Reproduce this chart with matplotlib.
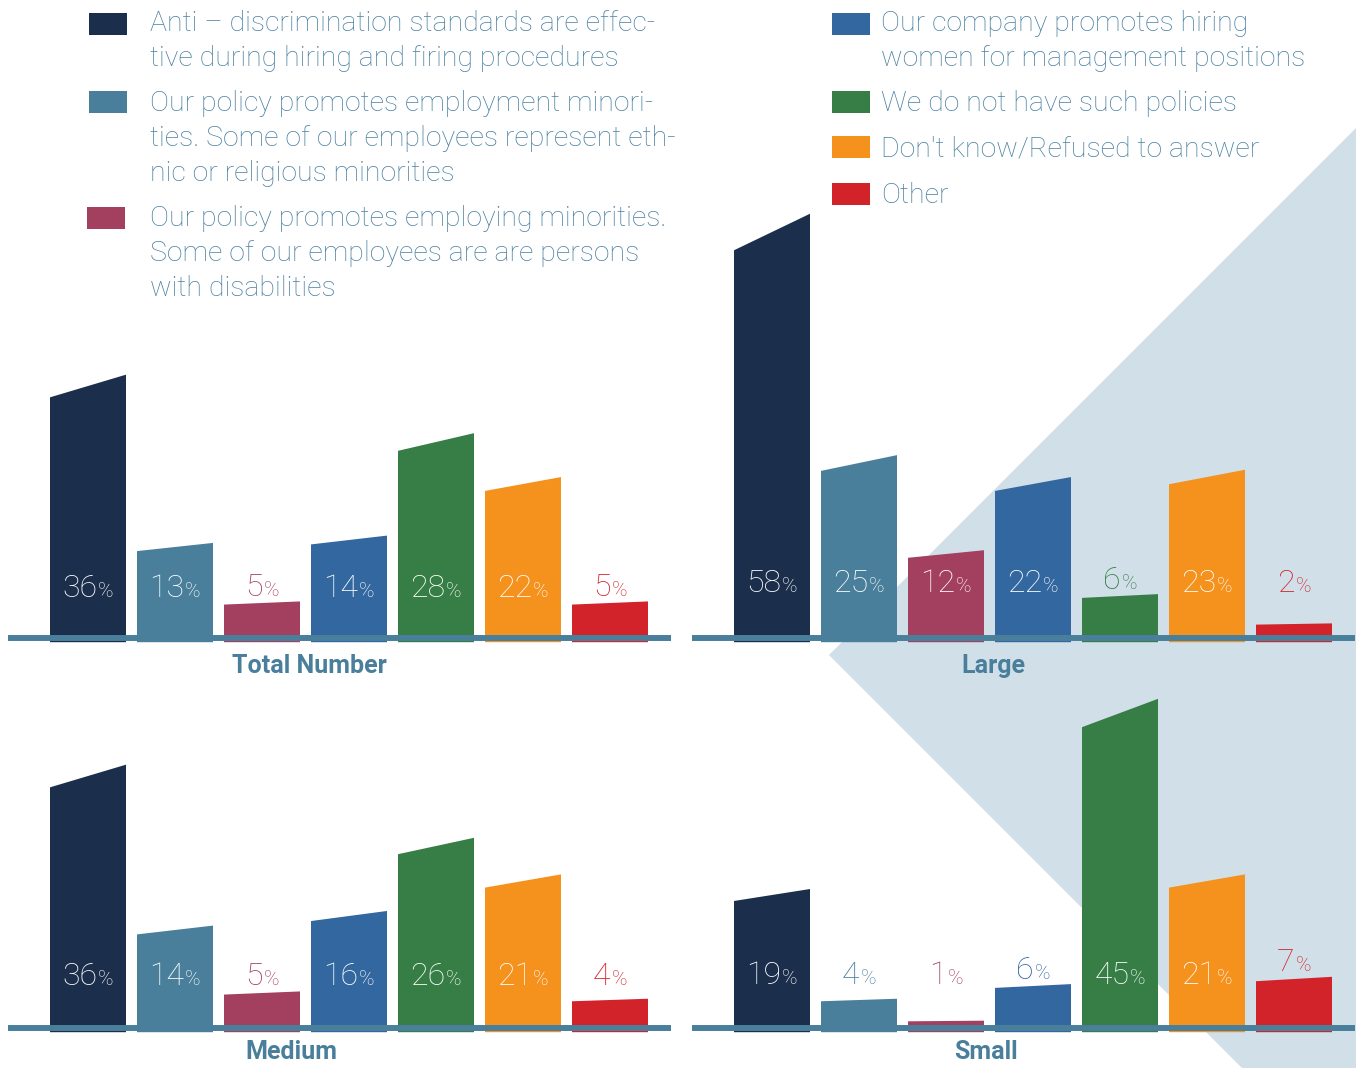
import matplotlib
matplotlib.use("Agg")
import matplotlib.pyplot as plt
from matplotlib.patches import Polygon

W, H = 1356, 1068

categories = [
    "Anti \u2013 discrimination standards are effec-\ntive during hiring and firing procedures",
    "Our policy promotes employment minori-\nties. Some of our employees represent eth-\nnic or religious minorities",
    "Our policy promotes employing minorities.\nSome of our employees are are persons\nwith disabilities",
    "Our company promotes hiring\nwomen for management positions",
    "We do not have such policies",
    "Don't know/Refused to answer",
    "Other",
]
colors = ["#1b2f4c", "#4a7f9c", "#a33f5f", "#33679f", "#367e45", "#f5921e", "#d2232a"]

groups = ["Total Number", "Large", "Medium", "Small"]
total_number = [36, 13, 5, 14, 28, 22, 5]
large = [58, 25, 12, 22, 6, 23, 2]
medium = [36, 14, 5, 16, 26, 21, 4]
small = [19, 4, 1, 6, 45, 21, 7]
values = [total_number, large, medium, small]

text_col = "#4b80a1"
line_col = "#4a7f9c"
bg_col = "#d1dfe8"

fig = plt.figure(figsize=(W / 100, H / 100), dpi=100)

# background layer in pixel coordinates
bg = fig.add_axes([0, 0, 1, 1], zorder=0)
bg.set_xlim(0, W)
bg.set_ylim(H, 0)
bg.axis("off")
bg.add_patch(Polygon([(1356, 128), (829, 655), (1242, 1068), (1356, 1068)],
                     closed=True, color=bg_col, lw=0))

# legend
leg_font = dict(family="Roboto", fontweight="light", fontsize=20.5, color=text_col)
left_items = [(89, 24, 150, 31), (89, 102, 150, 111), (87, 218, 150, 226)]
right_items = [(832, 24, 881, 31), (832, 102, 881, 111), (832, 147, 881, 157), (832, 194, 881, 203)]
for i, (sx, sy, tx, ty) in enumerate(left_items + right_items):
    bg.add_patch(plt.Rectangle((sx, sy - 11), 38, 22, color=colors[i], lw=0))
    for j, line in enumerate(categories[i].split("\n")):
        bg.text(tx, ty + j * 35, line, ha="left", va="baseline", **leg_font)

# panels: left px, right px, baseline px, title x px, title y, label baseline
panels = [(8, 671, 638, 309, -4.0, 5.9), (692, 1355, 638, 993, -4.0, 6.6),
          (8, 671, 1028, 291, -3.45, 6.1), (692, 1355, 1028, 986, -3.45, 6.3)]
pitch, bw, ppu = 87.0, 76.0, 7.0  # px per bar slot, bar width, px per percent
slant = 0.045
below, above = 40, 480

labels = []
for p, (x0, x1, base, tx, ty, lb) in enumerate(panels):
    ax = fig.add_axes([x0 / W, 1 - (base + below) / H, (x1 - x0) / W, (below + above) / H],
                      zorder=1)
    ax.patch.set_alpha(0)
    ax.axis("off")
    off = 80.0
    ax.set_xlim(-off / pitch, (x1 - x0 - off) / pitch)
    ax.set_ylim(-below / ppu, above / ppu)
    hw = bw / pitch / 2
    for i, v in enumerate(values[p]):
        ax.add_patch(Polygon([(i - hw, -0.6), (i - hw, v * (1 - slant)),
                              (i + hw, v * (1 + slant)), (i + hw, -0.6)],
                             closed=True, color=colors[i], lw=0, zorder=2))
        inside = v * (1 - slant) * ppu > lb * ppu + 30
        if inside:
            yb, c = lb, "white"
        else:
            yb, c = max(lb, v * (1 + slant) + 0.8), colors[i]
        tn = ax.text(i, yb, str(v), ha="left", va="baseline", fontsize=23,
                     family="Roboto", fontweight="light", color=c, zorder=4)
        tp = ax.text(i, yb, "%", ha="left", va="baseline", fontsize=15,
                     family="Roboto", fontweight="light", color=c, zorder=4)
        labels.append((i, tn, tp))
    ax.axhline(0, color=line_col, lw=4.3, zorder=3)
    ax.text((tx - x0 - off) / pitch, ty, groups[p], ha="center", va="center",
            fontsize=18, family="Roboto", fontweight="bold", color=line_col)

fig.canvas.draw()
r = fig.canvas.get_renderer()
for i, tn, tp in labels:
    wn = tn.get_window_extent(r).width
    wp = tp.get_window_extent(r).width
    tot = wn + 1 + wp
    tn.set_x(i - tot / 2 / pitch)
    tp.set_x(i - tot / 2 / pitch + (wn + 1) / pitch)

fig.savefig("out.png", dpi=100)
